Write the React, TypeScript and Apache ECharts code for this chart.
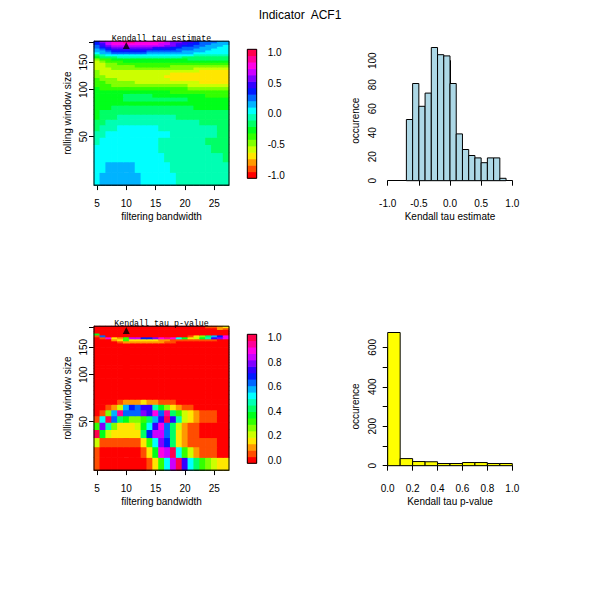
import React, { useEffect, useRef } from 'react';
import * as echarts from 'echarts';

// filtering bandwidths (x) and rolling window sizes (y, smallest first)
const bandwidths = [5, 6, 7, 8, 9, 10, 11, 12, 13, 14, 15, 16, 17, 18, 19, 20, 21, 22, 23, 24, 25, 26, 27];
const windowSizes = [
  27, 32, 37, 42, 47, 52, 57, 62, 67, 72, 77, 82, 87, 92, 97, 102, 107, 112,
  117, 122, 127, 132, 137, 142, 147, 152, 157, 162, 167, 172, 177, 182, 187, 192, 197, 202,
];

// Kendall tau estimate, one row per window size (27 -> 202), one column per bandwidth
const tauEstimate: number[][] = [
  [0.05, 0.16, 0.16, 0.16, 0.16, 0.16, 0.16, 0.16, 0.05, 0.05, 0.05, 0.05, 0.05, 0.05, -0.05, -0.05, -0.05, -0.05, -0.05, -0.05, -0.05, -0.05, -0.05],
  [0.05, 0.05, 0.16, 0.16, 0.16, 0.16, 0.16, 0.05, 0.05, 0.05, 0.05, 0.05, 0.05, -0.05, -0.05, -0.05, -0.05, -0.05, -0.05, -0.05, -0.05, -0.05, -0.05],
  [0.05, 0.05, 0.05, 0.05, 0.05, 0.05, 0.05, 0.05, 0.05, 0.05, 0.05, 0.05, -0.05, -0.05, -0.05, -0.05, -0.05, -0.05, -0.05, -0.05, -0.05, -0.05, -0.16],
  [0.05, 0.05, 0.05, 0.05, 0.05, 0.05, 0.05, 0.05, 0.05, 0.05, 0.05, -0.05, -0.05, -0.05, -0.05, -0.05, -0.05, -0.05, -0.05, -0.05, -0.16, -0.16, -0.16],
  [-0.05, 0.05, 0.05, 0.05, 0.05, 0.05, 0.05, 0.05, 0.05, 0.05, 0.05, -0.05, -0.05, -0.05, -0.05, -0.05, -0.05, -0.05, -0.05, -0.16, -0.16, -0.16, -0.16],
  [-0.05, -0.05, 0.05, 0.05, 0.05, 0.05, 0.05, 0.05, 0.05, 0.05, 0.05, 0.05, 0.05, -0.05, -0.05, -0.05, -0.05, -0.05, -0.05, -0.05, -0.05, -0.16, -0.16],
  [-0.16, -0.05, -0.05, -0.05, 0.05, 0.05, 0.05, 0.05, 0.05, 0.05, 0.05, -0.05, -0.05, -0.05, -0.05, -0.05, -0.05, -0.05, -0.05, -0.05, -0.05, -0.16, -0.16],
  [-0.16, -0.16, -0.05, -0.05, -0.05, -0.05, -0.05, -0.05, -0.05, -0.05, -0.05, -0.05, -0.05, -0.05, -0.05, -0.05, -0.05, -0.05, -0.16, -0.16, -0.16, -0.16, -0.16],
  [-0.26, -0.16, -0.16, -0.16, -0.05, -0.05, -0.05, -0.05, -0.05, -0.05, -0.05, -0.05, -0.05, -0.05, -0.16, -0.16, -0.16, -0.16, -0.16, -0.16, -0.16, -0.16, -0.16],
  [-0.26, -0.16, -0.16, -0.16, -0.16, -0.16, -0.16, -0.16, -0.16, -0.16, -0.16, -0.16, -0.16, -0.16, -0.16, -0.16, -0.16, -0.16, -0.16, -0.16, -0.16, -0.16, -0.16],
  [-0.26, -0.26, -0.26, -0.16, -0.16, -0.16, -0.16, -0.16, -0.16, -0.16, -0.16, -0.16, -0.16, -0.16, -0.16, -0.16, -0.16, -0.26, -0.26, -0.26, -0.26, -0.26, -0.26],
  [-0.26, -0.26, -0.26, -0.26, -0.26, -0.26, -0.26, -0.26, -0.26, -0.26, -0.26, -0.26, -0.26, -0.26, -0.26, -0.26, -0.26, -0.26, -0.26, -0.26, -0.26, -0.26, -0.26],
  [-0.26, -0.26, -0.26, -0.26, -0.26, -0.16, -0.16, -0.16, -0.16, -0.16, -0.16, -0.16, -0.16, -0.16, -0.16, -0.16, -0.26, -0.26, -0.26, -0.26, -0.26, -0.26, -0.26],
  [-0.26, -0.26, -0.26, -0.26, -0.26, -0.16, -0.16, -0.16, -0.16, -0.16, -0.26, -0.26, -0.26, -0.26, -0.26, -0.26, -0.26, -0.26, -0.26, -0.37, -0.37, -0.37, -0.37],
  [-0.26, -0.26, -0.26, -0.26, -0.26, -0.26, -0.26, -0.26, -0.26, -0.26, -0.26, -0.26, -0.26, -0.37, -0.37, -0.37, -0.37, -0.37, -0.37, -0.37, -0.37, -0.37, -0.37],
  [-0.26, -0.37, -0.37, -0.37, -0.37, -0.37, -0.37, -0.37, -0.37, -0.37, -0.37, -0.37, -0.37, -0.37, -0.37, -0.37, -0.47, -0.47, -0.47, -0.47, -0.47, -0.47, -0.47],
  [-0.37, -0.37, -0.37, -0.47, -0.47, -0.47, -0.47, -0.47, -0.47, -0.47, -0.47, -0.47, -0.47, -0.47, -0.47, -0.47, -0.58, -0.58, -0.58, -0.58, -0.58, -0.58, -0.58],
  [-0.37, -0.37, -0.47, -0.47, -0.47, -0.47, -0.47, -0.58, -0.58, -0.58, -0.58, -0.58, -0.58, -0.58, -0.58, -0.58, -0.58, -0.58, -0.68, -0.68, -0.68, -0.68, -0.68],
  [-0.37, -0.47, -0.47, -0.47, -0.58, -0.58, -0.58, -0.58, -0.58, -0.58, -0.58, -0.58, -0.58, -0.68, -0.68, -0.68, -0.68, -0.68, -0.68, -0.68, -0.68, -0.68, -0.68],
  [-0.47, -0.47, -0.58, -0.58, -0.58, -0.58, -0.58, -0.58, -0.58, -0.58, -0.58, -0.58, -0.68, -0.68, -0.68, -0.68, -0.68, -0.68, -0.68, -0.68, -0.68, -0.68, -0.68],
  [-0.47, -0.58, -0.58, -0.58, -0.58, -0.58, -0.58, -0.58, -0.58, -0.58, -0.58, -0.58, -0.58, -0.68, -0.68, -0.68, -0.68, -0.68, -0.68, -0.68, -0.68, -0.68, -0.68],
  [-0.47, -0.58, -0.58, -0.58, -0.58, -0.58, -0.58, -0.58, -0.58, -0.58, -0.58, -0.58, -0.58, -0.58, -0.58, -0.58, -0.58, -0.58, -0.68, -0.68, -0.68, -0.68, -0.68],
  [-0.58, -0.58, -0.58, -0.47, -0.47, -0.47, -0.47, -0.47, -0.47, -0.47, -0.47, -0.47, -0.47, -0.47, -0.47, -0.47, -0.47, -0.58, -0.58, -0.58, -0.58, -0.58, -0.58],
  [-0.58, -0.58, -0.47, -0.47, -0.47, -0.47, -0.47, -0.37, -0.37, -0.37, -0.37, -0.37, -0.37, -0.47, -0.47, -0.47, -0.47, -0.47, -0.47, -0.47, -0.47, -0.47, -0.47],
  [-0.58, -0.58, -0.47, -0.47, -0.37, -0.37, -0.37, -0.37, -0.37, -0.37, -0.37, -0.37, -0.37, -0.37, -0.37, -0.37, -0.37, -0.37, -0.37, -0.37, -0.37, -0.37, -0.37],
  [-0.58, -0.47, -0.37, -0.37, -0.37, -0.26, -0.26, -0.26, -0.26, -0.26, -0.26, -0.26, -0.26, -0.26, -0.26, -0.26, -0.26, -0.26, -0.26, -0.26, -0.26, -0.26, -0.26],
  [-0.47, -0.37, -0.37, -0.26, -0.26, -0.26, -0.26, -0.26, -0.26, -0.26, -0.26, -0.26, -0.26, -0.26, -0.26, -0.26, -0.16, -0.16, -0.16, -0.16, -0.16, -0.16, -0.16],
  [-0.26, -0.16, -0.16, -0.16, -0.05, -0.05, -0.05, -0.05, -0.05, -0.05, -0.05, -0.05, -0.05, -0.05, -0.05, -0.16, -0.16, -0.16, -0.16, -0.16, -0.16, -0.16, -0.16],
  [-0.16, -0.05, 0.05, 0.05, 0.05, 0.05, 0.05, 0.05, 0.05, 0.05, 0.05, 0.05, 0.05, 0.05, 0.05, 0.05, 0.05, -0.05, -0.05, -0.05, -0.05, -0.05, -0.05],
  [0.05, 0.16, 0.16, 0.26, 0.26, 0.26, 0.26, 0.26, 0.26, 0.16, 0.16, 0.16, 0.16, 0.16, 0.16, 0.16, 0.16, 0.05, 0.05, 0.05, 0.05, 0.05, 0.05],
  [0.16, 0.16, 0.26, 0.37, 0.37, 0.37, 0.37, 0.37, 0.37, 0.26, 0.26, 0.26, 0.26, 0.26, 0.26, 0.16, 0.16, 0.16, 0.16, 0.05, 0.05, 0.05, 0.05],
  [0.16, 0.26, 0.37, 0.47, 0.47, 0.47, 0.47, 0.47, 0.47, 0.47, 0.37, 0.37, 0.37, 0.37, 0.26, 0.26, 0.26, 0.16, 0.16, 0.16, 0.05, 0.05, 0.05],
  [0.26, 0.37, 0.47, 0.58, 0.58, 0.58, 0.58, 0.58, 0.58, 0.58, 0.47, 0.47, 0.47, 0.37, 0.37, 0.26, 0.26, 0.26, 0.16, 0.16, 0.16, 0.05, 0.05],
  [0.26, 0.47, 0.58, 0.68, 0.68, 0.68, 0.68, 0.68, 0.68, 0.68, 0.68, 0.68, 0.58, 0.58, 0.47, 0.37, 0.37, 0.26, 0.26, 0.16, 0.16, 0.16, 0.05],
  [0.37, 0.47, 0.68, 0.79, 0.79, 0.79, 0.79, 0.79, 0.79, 0.79, 0.79, 0.68, 0.68, 0.58, 0.47, 0.47, 0.37, 0.37, 0.26, 0.26, 0.16, 0.16, 0.16],
  [0.37, 0.58, 0.68, 0.79, 0.79, 0.89, 0.89, 0.79, 0.79, 0.79, 0.79, 0.79, 0.68, 0.58, 0.58, 0.47, 0.47, 0.37, 0.26, 0.26, 0.26, 0.16, 0.16],
];

// Kendall tau p-value, same layout
const tauPValue: number[][] = [
  [0.05, 0, 0, 0, 0, 0, 0, 0, 0, 0.05, 0.16, 0.32, 0.53, 0.84, 1, 0.74, 0.53, 0.42, 0.32, 0.26, 0.21, 0.16, 0.16],
  [0.05, 0, 0, 0, 0, 0, 0, 0, 0.05, 0.16, 0.37, 0.89, 0.84, 1, 0.53, 0.32, 0.21, 0.11, 0.05, 0.05, 0.05, 0, 0],
  [0.21, 0.05, 0.05, 0.05, 0.05, 0.05, 0.05, 0.05, 0.16, 0.32, 0.53, 0.79, 0.68, 0.42, 0.16, 0.11, 0.05, 0.05, 0.05, 0.05, 0.05, 0, 0],
  [1, 0.37, 0.21, 0.16, 0.16, 0.16, 0.16, 0.16, 0.42, 0.68, 0.84, 0.84, 0.63, 0.42, 0.16, 0.11, 0.05, 0.05, 0, 0, 0, 0, 0],
  [0.32, 0.79, 0.47, 0.26, 0.16, 0.16, 0.16, 0.21, 0.37, 0.53, 0.74, 0.89, 0.63, 0.42, 0.21, 0.11, 0.05, 0.05, 0, 0, 0, 0, 0],
  [0.05, 0.53, 1, 0.63, 0.42, 0.37, 0.26, 0.26, 0.32, 0.42, 0.58, 0.74, 1, 0.74, 0.47, 0.21, 0.16, 0.11, 0.05, 0.05, 0.05, 0, 0],
  [0, 0.05, 0.26, 0.58, 0.95, 0.63, 0.63, 0.63, 0.79, 0.74, 0.89, 0.63, 0.95, 0.42, 0.32, 0.21, 0.16, 0.11, 0.05, 0.05, 0.05, 0, 0],
  [0, 0, 0.05, 0.11, 0.21, 0.58, 0.68, 0.63, 0.74, 0.74, 0.47, 0.37, 0.26, 0.16, 0.11, 0.05, 0.05, 0, 0, 0, 0, 0, 0],
  [0, 0, 0, 0, 0.05, 0.11, 0.11, 0.11, 0.16, 0.11, 0.11, 0.05, 0.05, 0.05, 0, 0, 0, 0, 0, 0, 0, 0, 0],
  [0, 0, 0, 0, 0, 0, 0, 0, 0, 0, 0, 0, 0, 0, 0, 0, 0, 0, 0, 0, 0, 0, 0],
  [0, 0, 0, 0, 0, 0, 0, 0, 0, 0, 0, 0, 0, 0, 0, 0, 0, 0, 0, 0, 0, 0, 0],
  [0, 0, 0, 0, 0, 0, 0, 0, 0, 0, 0, 0, 0, 0, 0, 0, 0, 0, 0, 0, 0, 0, 0],
  [0, 0, 0, 0, 0, 0, 0, 0, 0, 0, 0, 0, 0, 0, 0, 0, 0, 0, 0, 0, 0, 0, 0],
  [0, 0, 0, 0, 0, 0, 0, 0, 0, 0, 0, 0, 0, 0, 0, 0, 0, 0, 0, 0, 0, 0, 0],
  [0, 0, 0, 0, 0, 0, 0, 0, 0, 0, 0, 0, 0, 0, 0, 0, 0, 0, 0, 0, 0, 0, 0],
  [0, 0, 0, 0, 0, 0, 0, 0, 0, 0, 0, 0, 0, 0, 0, 0, 0, 0, 0, 0, 0, 0, 0],
  [0, 0, 0, 0, 0, 0, 0, 0, 0, 0, 0, 0, 0, 0, 0, 0, 0, 0, 0, 0, 0, 0, 0],
  [0, 0, 0, 0, 0, 0, 0, 0, 0, 0, 0, 0, 0, 0, 0, 0, 0, 0, 0, 0, 0, 0, 0],
  [0, 0, 0, 0, 0, 0, 0, 0, 0, 0, 0, 0, 0, 0, 0, 0, 0, 0, 0, 0, 0, 0, 0],
  [0, 0, 0, 0, 0, 0, 0, 0, 0, 0, 0, 0, 0, 0, 0, 0, 0, 0, 0, 0, 0, 0, 0],
  [0, 0, 0, 0, 0, 0, 0, 0, 0, 0, 0, 0, 0, 0, 0, 0, 0, 0, 0, 0, 0, 0, 0],
  [0, 0, 0, 0, 0, 0, 0, 0, 0, 0, 0, 0, 0, 0, 0, 0, 0, 0, 0, 0, 0, 0, 0],
  [0, 0, 0, 0, 0, 0, 0, 0, 0, 0, 0, 0, 0, 0, 0, 0, 0, 0, 0, 0, 0, 0, 0],
  [0, 0, 0, 0, 0, 0, 0, 0, 0, 0, 0, 0, 0, 0, 0, 0, 0, 0, 0, 0, 0, 0, 0],
  [0, 0, 0, 0, 0, 0, 0, 0, 0, 0, 0, 0, 0, 0, 0, 0, 0, 0, 0, 0, 0, 0, 0],
  [0, 0, 0, 0, 0, 0, 0, 0, 0, 0, 0, 0, 0, 0, 0, 0, 0, 0, 0, 0, 0, 0, 0],
  [0, 0, 0, 0, 0, 0, 0, 0, 0, 0, 0, 0, 0, 0, 0, 0, 0, 0, 0, 0, 0, 0, 0],
  [0, 0, 0, 0, 0.05, 0.11, 0.11, 0.11, 0.11, 0.11, 0.11, 0.11, 0.05, 0.05, 0, 0, 0, 0, 0, 0, 0, 0, 0],
  [0, 0, 0, 0.11, 0.16, 0.32, 0.16, 0.16, 0.16, 0.16, 0.16, 0.11, 0.11, 0.05, 0.05, 0.05, 0.05, 0.05, 0.05, 0.05, 0.05, 0, 0],
  [0, 0.05, 0.89, 0.16, 0.11, 0.32, 0.84, 0.84, 0.68, 0.68, 0.79, 0.89, 0.95, 0.89, 0.53, 0.37, 0.16, 0.21, 0.37, 0.47, 0.74, 0.79, 0.89],
  [0.05, 0.63, 0, 0, 0, 0, 0, 0, 0, 0, 0, 0, 0, 0, 0, 0, 0.05, 0.16, 0.26, 0.42, 0.58, 0.68, 0.89],
  [0.37, 0, 0, 0, 0, 0, 0, 0, 0, 0, 0, 0, 0, 0, 0, 0, 0, 0, 0, 0, 0, 0, 0],
  [0, 0, 0, 0, 0, 0, 0, 0, 0, 0, 0, 0, 0, 0, 0, 0, 0, 0, 0, 0, 0, 0, 0],
  [0, 0, 0, 0, 0, 0, 0, 0, 0, 0, 0, 0, 0, 0, 0, 0, 0, 0, 0, 0, 0, 0, 0],
  [0, 0, 0, 0, 0, 0, 0, 0, 0, 0, 0, 0, 0, 0, 0, 0, 0, 0, 0, 0, 0, 0.11, 0.05],
  [0, 0, 0, 0, 0, 0, 0, 0, 0, 0, 0, 0, 0, 0, 0, 0, 0, 0, 0, 0.05, 0.05, 0.11, 0.16],
];

// histograms
const estBreaks = [-0.7, -0.6, -0.5, -0.4, -0.3, -0.2, -0.1, 0, 0.1, 0.2, 0.3, 0.4, 0.5, 0.6, 0.7, 0.8, 0.9];
const estCounts = [51, 81, 62, 73, 111, 105, 104, 81, 39, 26, 21, 19, 15, 19, 19, 2];
const pBreaks = [0, 0.1, 0.2, 0.3, 0.4, 0.5, 0.6, 0.7, 0.8, 0.9, 1];
const pCounts = [675, 36, 21, 20, 11, 11, 16, 16, 11, 11];

// tick labels
const bwTicks = [5, 10, 15, 20, 25];
const winTicks = [50, 100, 150, 200];
const winLabels = [50, 100, 150];
const estLegendTicks = [-1, -0.5, 0, 0.5, 1];
const pLegendTicks = [0, 0.2, 0.4, 0.6, 0.8, 1];

// chosen parameters marker
const chosen = { bandwidth: 10, window: 192 };

// R rainbow(20)
const rainbow20 = [
  '#FF0000', '#FF4D00', '#FF9900', '#FFE600', '#CCFF00', '#80FF00', '#33FF00', '#00FF1A', '#00FF66', '#00FFB3',
  '#00FFFF', '#00B3FF', '#0066FF', '#001AFF', '#3300FF', '#8000FF', '#CC00FF', '#FF00E6', '#FF0099', '#FF004D',
];

const FONT = 'Liberation Sans, Arial, sans-serif';
const MONO = 'Liberation Mono, Courier New, monospace';
const txt = { color: '#000', fontSize: 10, fontFamily: FONT };
const black = { color: '#000', width: 1 };

const levelStep = (zlim: number[]) => (zlim[1] - zlim[0]) / (rainbow20.length - 1);
const colorOf = (v: number, zlim: number[]) => {
  const i = Math.round((v - zlim[0]) / levelStep(zlim));
  return rainbow20[Math.max(0, Math.min(rainbow20.length - 1, i))];
};

// rect between two pixel corners, grown a little so neighbouring cells leave no seam
const rect = (a: number[], b: number[], grow = 0) => ({
  x: a[0] - grow, y: a[1] - grow, width: b[0] - a[0] + 2 * grow, height: b[1] - a[1] + 2 * grow,
});

const heatSeries = (matrix: number[][], zlim: number[], axis: number) => {
  const halfBw = (bandwidths[1] - bandwidths[0]) / 2;
  const halfWin = (windowSizes[1] - windowSizes[0]) / 2;
  const cells: number[][] = [];
  matrix.forEach((row, r) => row.forEach((v, c) => cells.push([bandwidths[c], windowSizes[r], v])));
  return {
    type: 'custom',
    xAxisIndex: axis,
    yAxisIndex: axis,
    z: 1,
    data: cells,
    renderItem: (_p: any, api: any) => {
      const bw = api.value(0);
      const w = api.value(1);
      const fill = colorOf(api.value(2), zlim);
      const a = api.coord([bw - halfBw, Math.log(w + halfWin)]);
      const b = api.coord([bw + halfBw, Math.log(w - halfWin)]);
      return { type: 'rect', shape: rect(a, b, 0.35), style: { fill } };
    },
  };
};

const legendSeries = (zlim: number[], axis: number) => ({
  type: 'custom',
  xAxisIndex: axis,
  yAxisIndex: axis,
  z: 1,
  data: rainbow20.map((_c, i) => [i]),
  renderItem: (_p: any, api: any) => {
    const i = api.value(0);
    const step = levelStep(zlim);
    const lo = zlim[0] + (i - 0.5) * step;
    const a = api.coord([0, lo + step]);
    const b = api.coord([1, lo]);
    return { type: 'rect', shape: rect(a, b, 0.3), style: { fill: rainbow20[i] } };
  },
});

const histSeries = (breaks: number[], counts: number[], color: string, axis: number) => ({
  type: 'custom',
  xAxisIndex: axis,
  yAxisIndex: axis,
  clip: false,
  data: counts.map((n, i) => [breaks[i], breaks[i + 1], n]),
  renderItem: (_p: any, api: any) => {
    const a = api.coord([api.value(0), api.value(2)]);
    const b = api.coord([api.value(1), 0]);
    return { type: 'rect', shape: rect(a, b), style: { fill: color, stroke: '#000', lineWidth: 1 } };
  },
});

const markerSeries = (axis: number) => ({
  type: 'scatter',
  xAxisIndex: axis,
  yAxisIndex: axis,
  z: 10,
  symbol: 'triangle',
  symbolSize: 7,
  itemStyle: { color: '#000' },
  data: [[chosen.bandwidth, Math.log(chosen.window)]],
});

const heatAxes = (grid: number) => ({
  x: {
    type: 'value', gridIndex: grid,
    min: bandwidths[0] - 0.5, max: bandwidths[bandwidths.length - 1] + 0.5,
    axisLine: { show: true, lineStyle: black },
    axisTick: { show: true, customValues: bwTicks, length: 5, lineStyle: black },
    axisLabel: { customValues: bwTicks, margin: 13, ...txt },
    splitLine: { show: false },
    name: 'filtering bandwidth', nameLocation: 'middle', nameGap: 26, nameTextStyle: txt,
  },
  y: {
    type: 'value', gridIndex: grid,
    min: Math.log(windowSizes[0] - 2.5), max: Math.log(windowSizes[windowSizes.length - 1] + 2.5),
    axisLine: { show: true, lineStyle: black },
    axisTick: { show: true, customValues: winTicks.map(Math.log), length: 5, lineStyle: black },
    axisLabel: {
      customValues: winLabels.map(Math.log), rotate: 90, margin: 6, ...txt,
      formatter: (v: number) => String(Math.round(Math.exp(v))),
    },
    splitLine: { show: false },
    name: 'rolling window size', nameLocation: 'middle', nameGap: 22, nameTextStyle: txt,
  },
});

const legendAxes = (grid: number, zlim: number[], ticks: number[]) => {
  const step = levelStep(zlim);
  return {
    x: { type: 'value', gridIndex: grid, min: 0, max: 1, show: false },
    y: {
      type: 'value', gridIndex: grid, position: 'right',
      min: zlim[0] - step / 2, max: zlim[1] + step / 2,
      axisLine: { show: false },
      axisTick: { show: true, customValues: ticks, length: 6, lineStyle: black },
      axisLabel: { customValues: ticks, margin: 11, ...txt, formatter: (v: number) => v.toFixed(1) },
      splitLine: { show: false },
    },
  };
};

const histAxes = (grid: number, xmin: number, xmax: number, xstep: number, ymax: number, ystep: number, labelEvery: number, xname: string) => ({
  x: {
    type: 'value', gridIndex: grid, min: xmin, max: xmax, interval: xstep, offset: 5,
    axisLine: { show: true, lineStyle: black },
    axisTick: { show: true, length: 5, lineStyle: black },
    axisLabel: { margin: 13, ...txt, formatter: (v: number) => v.toFixed(1) },
    splitLine: { show: false },
    name: xname, nameLocation: 'middle', nameGap: 26, nameTextStyle: txt,
  },
  y: {
    type: 'value', gridIndex: grid, min: 0, max: ymax, interval: ystep, offset: 5,
    axisLine: { show: true, lineStyle: black },
    axisTick: { show: true, length: 5, lineStyle: black },
    axisLabel: {
      rotate: 90, margin: 5, ...txt,
      formatter: (v: number) => (v % labelEvery === 0 ? String(v) : ''),
    },
    splitLine: { show: false },
    name: 'occurence', nameLocation: 'middle', nameGap: 22, nameTextStyle: txt,
  },
});

const App: React.FC = () => {
  const ref = useRef<HTMLDivElement>(null);

  useEffect(() => {
    if (!ref.current) return;
    const chart = echarts.init(ref.current, null, { renderer: 'svg' });

    const estZ = [-1, 1];
    const pZ = [0, 1];
    const boxed = { show: true, borderColor: '#000', borderWidth: 1, backgroundColor: 'transparent', z: 3 };

    const h1 = heatAxes(0);
    const l1 = legendAxes(1, estZ, estLegendTicks);
    const s1 = histAxes(2, -1, 1, 0.5, 100, 20, 20, 'Kendall tau estimate');
    const h2 = heatAxes(3);
    const l2 = legendAxes(4, pZ, pLegendTicks);
    const s2 = histAxes(5, 0, 1, 0.2, 600, 100, 200, 'Kendall tau p-value');

    chart.setOption({
      animation: false,
      backgroundColor: '#fff',
      textStyle: { fontFamily: FONT },
      grid: [
        { left: 94, top: 41.2, width: 135, height: 143.9, ...boxed },
        { left: 247.3, top: 49.3, width: 9.4, height: 129, ...boxed },
        { left: 387.7, top: 60.7, width: 124.6, height: 120 },
        { left: 94, top: 326.2, width: 135, height: 143.9, ...boxed },
        { left: 247.3, top: 334.3, width: 9.4, height: 129, ...boxed },
        { left: 387.7, top: 347.3, width: 124.6, height: 118.4 },
      ],
      xAxis: [h1.x, l1.x, s1.x, h2.x, l2.x, s2.x],
      yAxis: [h1.y, l1.y, s1.y, h2.y, l2.y, s2.y],
      series: [
        heatSeries(tauEstimate, estZ, 0),
        markerSeries(0),
        legendSeries(estZ, 1),
        histSeries(estBreaks, estCounts, '#ADD8E6', 2),
        heatSeries(tauPValue, pZ, 3),
        markerSeries(3),
        legendSeries(pZ, 4),
        histSeries(pBreaks, pCounts, '#FFFF00', 5),
      ],
      graphic: [
        {
          type: 'text', x: 300, y: 15,
          style: { text: 'Indicator  ACF1', fill: '#000', fontSize: 12, fontFamily: FONT, align: 'center', verticalAlign: 'middle' },
        },
        {
          type: 'text', x: 161.5, y: 38.3, z: 20,
          style: { text: 'Kendall tau estimate', fill: '#000', fontSize: 8.3, fontFamily: MONO, align: 'center', verticalAlign: 'middle' },
        },
        {
          type: 'text', x: 161.5, y: 323.3, z: 20,
          style: { text: 'Kendall tau p-value', fill: '#000', fontSize: 8.3, fontFamily: MONO, align: 'center', verticalAlign: 'middle' },
        },
      ],
    });

    return () => chart.dispose();
  }, []);

  return (
    <div
      ref={ref}
      style={{ position: 'fixed', left: 0, top: 0, width: 600, height: 600, background: '#fff' }}
    />
  );
};

export default App;
